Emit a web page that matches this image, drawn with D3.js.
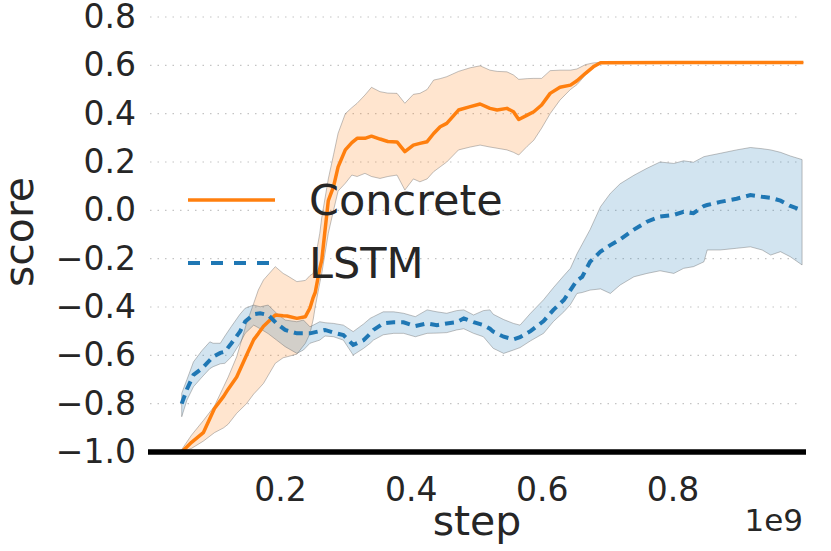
<!DOCTYPE html>
<html>
  <head>
    <meta charset="utf-8">
    <title>Concrete vs LSTM score</title>
    <style>
body {
  margin: 0px;
  overflow: hidden;
  background: #fff;
}
text {
  font-family: 'DejaVu Sans', sans-serif;
  fill: #262626;
}
.tick text {
  font-size: 33px;
}
.axis-label {
  font-size: 41px;
}
.legend text {
  font-size: 43px;
}
    </style>
    <script src="https://d3js.org/d3.v7.min.js"></script>
  </head>
  <body>
    <svg width="831" height="551"></svg>
    <script>

// steps are in units of 1e9
const concreteStep = [0.050, 0.065, 0.083, 0.100, 0.114, 0.121, 0.134, 0.149, 0.160, 0.167, 0.175, 0.193, 0.205, 0.211, 0.226, 0.239, 0.246, 0.251, 0.254, 0.261, 0.264, 0.274, 0.282, 0.289, 0.300, 0.310, 0.318, 0.330, 0.340, 0.353, 0.365, 0.379, 0.391, 0.404, 0.414, 0.425, 0.435, 0.445, 0.455, 0.473, 0.491, 0.506, 0.521, 0.532, 0.547, 0.557, 0.565, 0.578, 0.588, 0.600, 0.613, 0.628, 0.644, 0.654, 0.667, 0.679, 0.690, 0.800, 0.900, 1.000];
const concreteMean = [-1.00, -0.96, -0.92, -0.82, -0.77, -0.74, -0.69, -0.60, -0.535, -0.51, -0.48, -0.433, -0.436, -0.437, -0.447, -0.44, -0.404, -0.36, -0.34, -0.24, -0.206, 0.04, 0.098, 0.18, 0.25, 0.28, 0.298, 0.298, 0.307, 0.295, 0.285, 0.283, 0.243, 0.27, 0.277, 0.284, 0.318, 0.346, 0.36, 0.415, 0.429, 0.44, 0.422, 0.415, 0.422, 0.408, 0.376, 0.394, 0.408, 0.436, 0.484, 0.509, 0.518, 0.536, 0.567, 0.594, 0.611, 0.612, 0.612, 0.612];
const concreteUpper = [-0.99, -0.93, -0.87, -0.81, -0.73, -0.69, -0.606, -0.468, -0.385, -0.33, -0.288, -0.233, -0.261, -0.27, -0.295, -0.29, -0.27, -0.261, -0.20, -0.095, -0.03, 0.13, 0.23, 0.319, 0.40, 0.425, 0.443, 0.477, 0.509, 0.491, 0.485, 0.484, 0.443, 0.48, 0.484, 0.50, 0.539, 0.545, 0.553, 0.575, 0.59, 0.598, 0.58, 0.575, 0.573, 0.56, 0.542, 0.545, 0.546, 0.546, 0.578, 0.58, 0.58, 0.585, 0.603, 0.61, 0.612, 0.612, 0.612, 0.612];
const concreteLower = [-1.00, -0.985, -0.955, -0.92, -0.90, -0.885, -0.84, -0.80, -0.76, -0.74, -0.716, -0.633, -0.61, -0.606, -0.595, -0.55, -0.51, -0.45, -0.40, -0.30, -0.261, -0.095, 0.00, 0.08, 0.112, 0.146, 0.14, 0.153, 0.14, 0.132, 0.14, 0.146, 0.084, 0.13, 0.118, 0.13, 0.16, 0.18, 0.20, 0.25, 0.262, 0.27, 0.262, 0.257, 0.25, 0.24, 0.229, 0.265, 0.29, 0.34, 0.40, 0.456, 0.50, 0.52, 0.56, 0.59, 0.61, 0.612, 0.612, 0.612];

const lstmStep = [0.050, 0.058, 0.068, 0.081, 0.093, 0.098, 0.109, 0.116, 0.126, 0.139, 0.147, 0.160, 0.170, 0.182, 0.195, 0.208, 0.226, 0.236, 0.246, 0.261, 0.269, 0.282, 0.297, 0.312, 0.328, 0.338, 0.343, 0.358, 0.374, 0.389, 0.407, 0.425, 0.440, 0.455, 0.470, 0.481, 0.496, 0.511, 0.521, 0.526, 0.542, 0.557, 0.567, 0.583, 0.603, 0.618, 0.634, 0.644, 0.654, 0.662, 0.674, 0.690, 0.705, 0.720, 0.741, 0.761, 0.781, 0.802, 0.817, 0.832, 0.848, 0.853, 0.873, 0.898, 0.919, 0.937, 0.950, 0.965, 0.980, 0.998];
const lstmMean = [-0.80, -0.74, -0.681, -0.654, -0.62, -0.606, -0.59, -0.585, -0.55, -0.502, -0.46, -0.43, -0.426, -0.433, -0.468, -0.495, -0.509, -0.509, -0.509, -0.50, -0.495, -0.506, -0.516, -0.557, -0.537, -0.51, -0.495, -0.468, -0.463, -0.463, -0.479, -0.468, -0.475, -0.468, -0.463, -0.447, -0.463, -0.475, -0.49, -0.502, -0.523, -0.534, -0.525, -0.50, -0.458, -0.412, -0.371, -0.33, -0.29, -0.275, -0.213, -0.171, -0.144, -0.12, -0.08, -0.047, -0.026, -0.019, -0.006, -0.012, 0.018, 0.022, 0.035, 0.048, 0.063, 0.056, 0.052, 0.04, 0.018, 0.001];
const lstmUpper = [-0.757, -0.70, -0.627, -0.58, -0.544, -0.55, -0.55, -0.52, -0.48, -0.43, -0.405, -0.392, -0.399, -0.392, -0.426, -0.454, -0.461, -0.454, -0.482, -0.461, -0.465, -0.468, -0.475, -0.502, -0.47, -0.447, -0.44, -0.42, -0.42, -0.426, -0.44, -0.412, -0.42, -0.426, -0.415, -0.412, -0.433, -0.415, -0.412, -0.43, -0.452, -0.468, -0.475, -0.426, -0.37, -0.32, -0.27, -0.24, -0.18, -0.14, -0.08, 0.015, 0.07, 0.11, 0.145, 0.174, 0.20, 0.194, 0.205, 0.199, 0.222, 0.225, 0.236, 0.25, 0.26, 0.255, 0.25, 0.24, 0.225, 0.21];
const lstmLower = [-0.854, -0.785, -0.73, -0.69, -0.655, -0.647, -0.635, -0.633, -0.606, -0.55, -0.509, -0.475, -0.49, -0.51, -0.537, -0.564, -0.592, -0.578, -0.55, -0.537, -0.52, -0.523, -0.537, -0.599, -0.571, -0.55, -0.537, -0.515, -0.509, -0.509, -0.523, -0.509, -0.508, -0.506, -0.495, -0.49, -0.509, -0.523, -0.555, -0.571, -0.592, -0.578, -0.568, -0.54, -0.509, -0.46, -0.42, -0.39, -0.344, -0.34, -0.33, -0.325, -0.344, -0.309, -0.275, -0.261, -0.25, -0.261, -0.24, -0.233, -0.213, -0.164, -0.164, -0.157, -0.151, -0.164, -0.185, -0.171, -0.192, -0.226];

const yTicks = [-1.0, -0.8, -0.6, -0.4, -0.2, 0.0, 0.2, 0.4, 0.6, 0.8];
const xTicks = [0.2, 0.4, 0.6, 0.8];

const seriesNames = ['Concrete', 'LSTM'];
const seriesColors = ['#ff7f0e', '#1f77b4'];

const svg = d3.select('svg');

const xScale = d3.scaleLinear()
  .domain([0, 1.004])
  .range([149, 806]);

const yScale = d3.scaleLinear()
  .domain([-1.0, 0.8])
  .range([452, 17]);

const toRows = (steps, mean, upper, lower) =>
  steps.map((s, i) => ({ step: s, mean: mean[i], upper: upper[i], lower: lower[i] }));

const series = [
  toRows(concreteStep, concreteMean, concreteUpper, concreteLower),
  toRows(lstmStep, lstmMean, lstmUpper, lstmLower)
];

// dotted horizontal grid
svg.append('g')
  .selectAll('line')
  .data(yTicks.filter(d => d > -1))
  .enter().append('line')
    .attr('x1', 150)
    .attr('x2', 802)
    .attr('y1', d => yScale(d))
    .attr('y2', d => yScale(d))
    .attr('stroke', '#c4c4c4')
    .attr('stroke-width', 1.2)
    .attr('stroke-dasharray', '1.5,6');

const area = d3.area()
  .x(d => xScale(d.step))
  .y0(d => yScale(d.lower))
  .y1(d => yScale(d.upper));

const line = d3.line()
  .x(d => xScale(d.step))
  .y(d => yScale(d.mean));

series.forEach((rows, i) => {
  svg.append('path')
    .datum(rows)
    .attr('d', area)
    .attr('fill', seriesColors[i])
    .attr('fill-opacity', 0.2)
    .attr('stroke', '#666')
    .attr('stroke-opacity', 0.45)
    .attr('stroke-width', 0.9);
});

svg.append('path')
  .datum(series[0])
  .attr('d', line)
  .attr('fill', 'none')
  .attr('stroke', seriesColors[0])
  .attr('stroke-width', 3.5)
  .attr('stroke-linejoin', 'round');

svg.append('path')
  .datum(series[1])
  .attr('d', line)
  .attr('fill', 'none')
  .attr('stroke', seriesColors[1])
  .attr('stroke-width', 4)
  .attr('stroke-dasharray', '9,6');

// axes
const xAxis = d3.axisBottom(xScale)
  .tickValues(xTicks)
  .tickSize(0)
  .tickPadding(26)
  .tickFormat(d3.format('.1f'));

const xAxisG = svg.append('g')
  .attr('transform', `translate(0,${yScale(-1.0)})`)
  .call(xAxis);
xAxisG.select('.domain').remove();
xAxisG.selectAll('.tick text').attr('fill', '#262626');

const yAxis = d3.axisLeft(yScale)
  .tickValues(yTicks)
  .tickSize(0)
  .tickPadding(13)
  .tickFormat(d => d3.format('.1f')(d).replace('-', '\u2212'));

const yAxisG = svg.append('g')
  .attr('transform', 'translate(149,0)')
  .call(yAxis);
yAxisG.select('.domain').remove();
yAxisG.selectAll('.tick text').attr('fill', '#262626');

// thick baseline at -1
svg.append('line')
  .attr('x1', 148)
  .attr('x2', 806)
  .attr('y1', yScale(-1.0))
  .attr('y2', yScale(-1.0))
  .attr('stroke', '#000')
  .attr('stroke-width', 5.5);

svg.append('text')
  .attr('class', 'axis-label')
  .attr('x', 477)
  .attr('y', 535)
  .attr('text-anchor', 'middle')
  .text('step');

svg.append('text')
  .attr('class', 'axis-label')
  .attr('transform', 'translate(33,232) rotate(-90)')
  .attr('text-anchor', 'middle')
  .text('score');

svg.append('text')
  .attr('x', 803)
  .attr('y', 531)
  .attr('text-anchor', 'end')
  .style('font-size', '31px')
  .text('1e9');

// legend
const legend = svg.append('g').attr('class', 'legend');
const legendY = [200, 263];
seriesNames.forEach((name, i) => {
  legend.append('line')
    .attr('x1', 188)
    .attr('x2', 275)
    .attr('y1', legendY[i])
    .attr('y2', legendY[i])
    .attr('stroke', seriesColors[i])
    .attr('stroke-width', i === 0 ? 3.5 : 4)
    .attr('stroke-dasharray', i === 0 ? null : '12,11');
  legend.append('text')
    .attr('x', 309)
    .attr('y', legendY[i] + 15)
    .text(name);
});

    </script>
  </body>
</html>
